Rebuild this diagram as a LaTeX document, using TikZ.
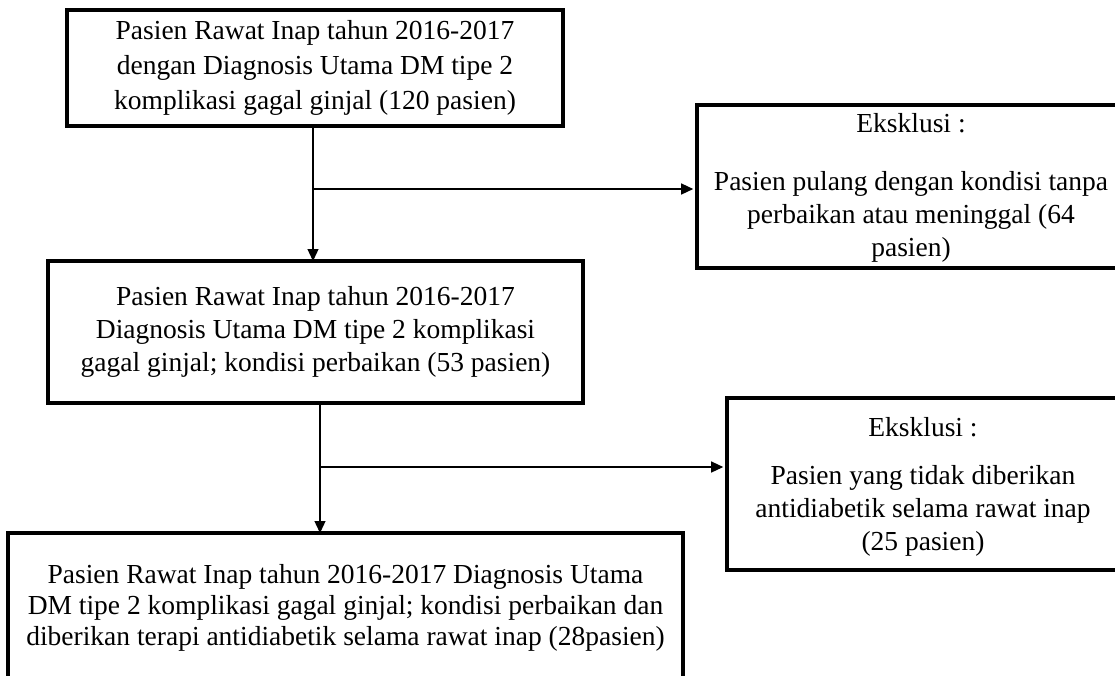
\documentclass[tikz,border=0pt]{standalone}
\usepackage{fontspec}
\setmainfont{Liberation Serif}
\usetikzlibrary{arrows.meta}
\begin{document}
\begin{tikzpicture}[x=1pt,y=-1pt,
  box/.style={draw=black,line width=3.8pt,inner sep=0pt,align=center,
    font=\fontsize{27.5}{33}\selectfont},
  conn/.style={draw=black,line width=1.3pt},
  arr/.style={conn,-{Triangle[length=12pt,width=11pt]}}]
\useasboundingbox (0,0) rectangle (1115,675);
\clip (0,0) rectangle (1115,675);
\fill[white] (0,0) rectangle (1115,675);
\node[box,minimum width=496pt,minimum height=116pt] (b1) at (315,68)
  {Pasien Rawat Inap tahun 2016-2017\\[2pt]dengan Diagnosis Utama DM tipe 2\\[2pt]komplikasi gagal ginjal (120 pasien)};
\node[box,minimum width=428pt,minimum height=163pt] (r1) at (911,186.5)
  {\rule{0pt}{22pt}Eksklusi :\\[25pt]Pasien pulang dengan kondisi tanpa\\perbaikan atau meninggal (64\\pasien)};
\node[box,minimum width=535pt,minimum height=142pt] (b2) at (315.5,332)
  {Pasien Rawat Inap tahun 2016-2017\\Diagnosis Utama DM tipe 2 komplikasi\\gagal ginjal; kondisi perbaikan (53 pasien)};
\node[box,minimum width=392pt,minimum height=172pt] (r2) at (923,484)
  {\rule{0pt}{25pt}Eksklusi :\\[15pt]Pasien yang tidak diberikan\\antidiabetik selama rawat inap\\(25 pasien)};
\node[box,minimum width=675pt,minimum height=150pt] (b3) at (345.5,608)
  {Pasien Rawat Inap tahun 2016-2017 Diagnosis Utama\\[-2pt]DM tipe 2 komplikasi gagal ginjal; kondisi perbaikan dan\\[-2pt]diberikan terapi antidiabetik selama rawat inap (28pasien)};
\coordinate (j1) at (313,189);
\coordinate (j2) at (320,467);
\draw[arr] (b1.south -| j1) -- ([yshift=-1.9pt]b2.north -| j1);
\draw[arr] (j1) -- ([xshift=-1.9pt]r1.west |- j1);
\draw[arr] (b2.south -| j2) -- ([yshift=-1.9pt]b3.north -| j2);
\draw[arr] (j2) -- ([xshift=-1.9pt]r2.west |- j2);
\end{tikzpicture}
\end{document}
